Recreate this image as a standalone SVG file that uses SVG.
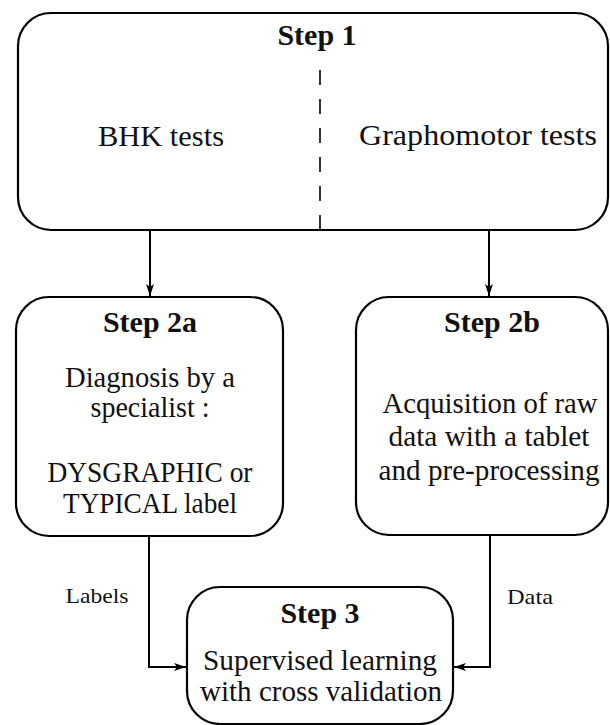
<svg xmlns="http://www.w3.org/2000/svg" width="610" height="725" viewBox="0 0 610 725">
<defs>
<style>
.box{fill:#fff;stroke:#000;stroke-width:2.2}
.t{font-family:"Liberation Serif","DejaVu Serif",serif;font-size:30px;fill:#111;text-anchor:middle}
.h{font-family:"Liberation Serif","DejaVu Serif",serif;font-size:30px;font-weight:bold;fill:#111;text-anchor:middle}
.s{font-family:"Liberation Serif","DejaVu Serif",serif;font-size:22px;fill:#111;text-anchor:middle}
.c{fill:none;stroke:#000;stroke-width:2}
</style>
<marker id="ah" viewBox="0 0 12 10" refX="12" refY="5" markerWidth="12" markerHeight="10" markerUnits="userSpaceOnUse" orient="auto">
<path d="M0,1 L12,5 L0,9 L3,5 Z" fill="#000"/>
</marker>
</defs>
<g id="step1">
<rect class="box" x="18" y="13" width="590" height="217" rx="33"/>
<line x1="320" y1="70" x2="320" y2="230" stroke="#000" stroke-width="1.6" stroke-dasharray="15,14"/>
<text class="h" x="317" y="45">Step 1</text>
<text class="t" x="161" y="146" textLength="126" lengthAdjust="spacingAndGlyphs">BHK tests</text>
<text class="t" x="478" y="145" textLength="238" lengthAdjust="spacingAndGlyphs">Graphomotor tests</text>
</g>
<g id="step2a">
<rect class="box" x="16" y="297" width="267" height="239" rx="33"/>
<text class="h" x="150" y="332">Step 2a</text>
<text class="t" x="150" y="387" textLength="170" lengthAdjust="spacingAndGlyphs">Diagnosis by a</text>
<text class="t" x="150" y="417" textLength="119" lengthAdjust="spacingAndGlyphs">specialist :</text>
<text class="t" x="150" y="482" textLength="205" lengthAdjust="spacingAndGlyphs">DYSGRAPHIC or</text>
<text class="t" x="150" y="513" textLength="174" lengthAdjust="spacingAndGlyphs">TYPICAL label</text>
</g>
<g id="step2b">
<rect class="box" x="356" y="297" width="252" height="238" rx="33"/>
<text class="h" x="492" y="332">Step 2b</text>
<text class="t" x="490" y="413" textLength="215" lengthAdjust="spacingAndGlyphs">Acquisition of raw</text>
<text class="t" x="489" y="446" textLength="201" lengthAdjust="spacingAndGlyphs">data with a tablet</text>
<text class="t" x="489" y="480" textLength="221" lengthAdjust="spacingAndGlyphs">and pre-processing</text>
</g>
<g id="step3">
<rect class="box" x="187" y="587" width="266" height="137" rx="33"/>
<text class="h" x="320" y="623">Step 3</text>
<text class="t" x="320" y="670" textLength="234" lengthAdjust="spacingAndGlyphs">Supervised learning</text>
<text class="t" x="321" y="701" textLength="242" lengthAdjust="spacingAndGlyphs">with cross validation</text>
</g>
<g id="connectors">
<line class="c" x1="150" y1="230" x2="150" y2="296" marker-end="url(#ah)"/>
<line class="c" x1="489" y1="230" x2="489" y2="296" marker-end="url(#ah)"/>
<polyline class="c" points="149,536 149,667 186,667" marker-end="url(#ah)"/>
<polyline class="c" points="490,535 490,667 454,667" marker-end="url(#ah)"/>
<text class="s" x="97" y="603" textLength="63" lengthAdjust="spacingAndGlyphs">Labels</text>
<text class="s" x="530" y="604" textLength="46" lengthAdjust="spacingAndGlyphs">Data</text>
</g>
</svg>
